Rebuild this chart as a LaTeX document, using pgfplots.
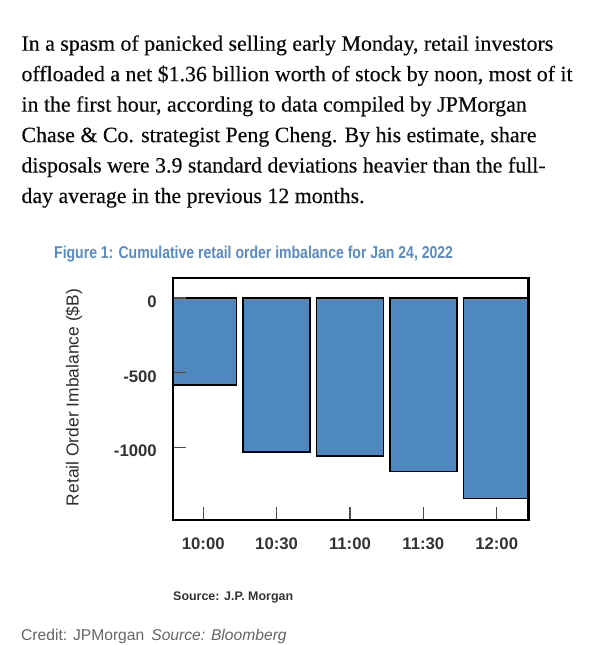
\documentclass[border=0pt]{standalone}
\usepackage{pgfplots}
\pgfplotsset{compat=1.18}
\usepackage{fontspec}
\usepackage{graphicx}
\setmainfont{Liberation Sans}
\newfontfamily\serif[FakeBold=0.3]{Liberation Serif}
\definecolor{barblue}{RGB}{78,136,191}
\definecolor{titleblue}{RGB}{88,140,200}
\definecolor{txt}{RGB}{10,10,10}
\begin{document}
\begin{tikzpicture}
\fill[white] (0bp,0bp) rectangle (596bp,-645bp);
% paragraph
\begin{scope}[every node/.style={anchor=base west, inner sep=0pt, text=txt, font=\serif\fontsize{21.95}{24}\selectfont}]
\node at (21.3bp,-50.7bp) {In a spasm of panicked selling early Monday, retail investors};
\node at (21.3bp,-81.2bp) {offloaded a net \$1.36 billion worth of stock by noon, most of it};
\node at (21.3bp,-111.6bp) {in the first hour, according to data compiled by JPMorgan};
\node at (21.3bp,-142.1bp) {Chase \& Co. strategist Peng Cheng. By his estimate, share};
\node at (21.3bp,-172.5bp) {disposals were 3.9 standard deviations heavier than the full-};
\node at (21.3bp,-203.0bp) {day average in the previous 12 months.};
\end{scope}
\begin{axis}[
  at={(172.7bp,-520bp)}, anchor=south west,
  width=355.6bp, height=242bp, scale only axis,
  xmin=-0.417, xmax=4.431, ymin=-1487, ymax=135,
  axis on top,
  axis line style={line width=2.4bp, draw=black},
  xtick={0,1,2,3,4}, xticklabels={10:00,10:30,11:00,11:30,12:00},
  ytick={0,-500,-1000}, yticklabels={0,-500,-1000},
  xtick pos=bottom, ytick pos=left,
  tick align=inside, major tick length=13bp,
  tick style={draw=black!70, line width=1.4bp},
  ticklabel style={font=\bfseries\fontsize{16.8}{17}\selectfont, text=black!80},
  xticklabel style={anchor=north, inner sep=0pt, yshift=-18bp},
  yticklabel style={anchor=east, inner sep=0pt, xshift=-15.7bp, yshift=-3.5bp},
  title={\scalebox{0.8185}[1]{\bfseries Figure 1: Cumulative retail order imbalance for Jan 24, 2022}},
  title style={at={(axis description cs:-0.3338,1.0579)}, anchor=base west, inner sep=0pt, text=titleblue, font=\fontsize{17.2}{18}\selectfont},
  ylabel={Retail Order Imbalance (\$B)},
  every axis y label/.style={at={(axis description cs:-0.2776,0.5062)}, rotate=90, anchor=center, inner sep=0pt, text=black!82, font=\fontsize{17.5}{18}\selectfont},
]
\addplot[ybar, bar width=0.91, fill=barblue, draw=black, line width=1.6bp]
  coordinates {(0,-582) (1,-1033) (2,-1056) (3,-1161) (4,-1342)};
\end{axis}
\node[anchor=base west, inner sep=0pt, text=black!80, font=\bfseries\fontsize{12.5}{13}\selectfont] at (173bp,-600bp) {Source: J.P. Morgan};
\node[anchor=base west, inner sep=0pt, text=black!60, font=\fontsize{15.7}{16}\selectfont] at (21bp,-640.7bp) {Credit: JPMorgan\hspace{7bp}\textit{Source: Bloomberg}};
\end{tikzpicture}
\end{document}
